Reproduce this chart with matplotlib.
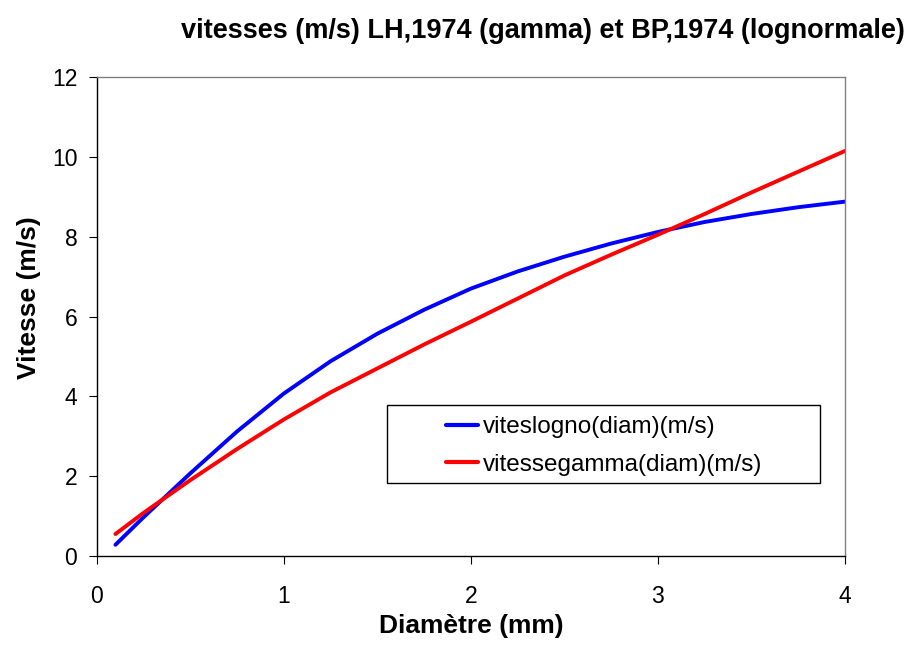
import numpy as np
import matplotlib
matplotlib.use("Agg")
import matplotlib.pyplot as plt
from matplotlib.patches import Rectangle

plt.rcParams['font.family'] = ['Liberation Sans', 'DejaVu Sans']

# diametre des gouttes (mm)
diam = [0.1, 0.25, 0.5, 0.75, 1.0, 1.25, 1.5, 1.75, 2.0, 2.25, 2.5, 2.75,
        3.0, 3.25, 3.5, 3.75, 4.0]
# vitesse de chute (m/s), loi lognormale BP,1974
vit_logno = [0.28, 0.97, 2.07, 3.12, 4.07, 4.88, 5.57, 6.17, 6.70, 7.13,
             7.50, 7.83, 8.12, 8.37, 8.57, 8.74, 8.88]
# vitesse de chute (m/s), loi gamma LH,1974
vit_gamma = [0.55, 1.08, 1.90, 2.68, 3.42, 4.10, 4.70, 5.30, 5.87, 6.45,
             7.03, 7.55, 8.05, 8.57, 9.11, 9.63, 10.15]

fig = plt.figure(figsize=(9.15, 6.48), dpi=100)
ax = fig.add_axes([0.1057, 0.142, 0.8178, 0.739])

ax.plot(diam, vit_logno, color='#0000FF', lw=2.8, label='viteslogno(diam)(m/s)',
        solid_capstyle='round', solid_joinstyle='round')
ax.plot(diam, vit_gamma, color='#FF0000', lw=2.8, label='vitessegamma(diam)(m/s)',
        solid_capstyle='round', solid_joinstyle='round')

ax.set_xlim(0, 4)
ax.set_ylim(0, 12)
ax.set_xticks([0, 1, 2, 3, 4])
ax.set_yticks([0, 2, 4, 6, 8, 10, 12])
ax.tick_params(axis='both', direction='out', length=6, width=0.8,
               labelsize=16.5, color='black')
ax.tick_params(axis='x', pad=15)
ax.tick_params(axis='y', pad=8)

for s in ['left', 'bottom']:
    ax.spines[s].set_color('black')
    ax.spines[s].set_linewidth(1.0)
for s in ['top', 'right']:
    ax.spines[s].set_color('#808080')
    ax.spines[s].set_linewidth(1.0)

ax.set_xlabel('Diamètre (mm)', fontsize=19, fontweight='bold')
ax.set_ylabel('Vitesse (m/s)', fontsize=19, fontweight='bold')
ax.xaxis.set_label_coords(0.5, -0.122)
ax.yaxis.set_label_coords(-0.075, 0.54)

fig.text(0.593, 0.952, 'vitesses (m/s) LH,1974 (gamma) et BP,1974 (lognormale)',
         ha='center', va='center', fontsize=19.5, fontweight='bold')

# cadre de la legende
ax.add_patch(Rectangle((0.3886, 0.1524), 0.578, 0.1628, transform=ax.transAxes,
                       fill=False, edgecolor='black', lw=1.0, zorder=5))
leg = ax.legend(loc='center left', bbox_to_anchor=(0.4668, 0.2296),
                frameon=False, fontsize=17.5, borderpad=0, borderaxespad=0,
                handlelength=1.3, handletextpad=0.2, labelspacing=0.65)
for line in leg.get_lines():
    line.set_linewidth(3.0)

fig.savefig('out.png', dpi=100)
